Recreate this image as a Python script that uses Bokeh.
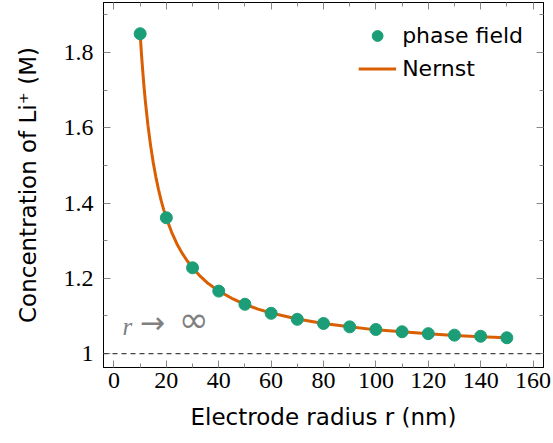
from bokeh.plotting import figure
from bokeh.models import (Range1d, FixedTicker, CustomJSTickFormatter, LinearAxis,
                          Span, Label, Legend, LegendItem)
from bokeh.embed import file_html
from bokeh.resources import INLINE

# phase-field simulation points
pf_r = [10, 20, 30, 40, 50, 60, 70, 80, 90, 100, 110, 120, 130, 140, 150]
pf_c = [1.850, 1.361, 1.228, 1.166, 1.131, 1.107, 1.091, 1.080, 1.071,
        1.064, 1.058, 1.053, 1.049, 1.046, 1.042]

# Nernst curve
ne_r = [10, 10.5, 11, 11.5, 12, 13, 14, 15, 16, 17, 18, 19, 20, 22, 24, 26,
        28, 30, 33, 36, 40, 45, 50, 55, 60, 70, 80, 90, 100, 110, 120, 130,
        140, 150]
ne_c = [1.850, 1.796, 1.749, 1.707, 1.669, 1.605, 1.552, 1.507, 1.469,
        1.436, 1.407, 1.382, 1.360, 1.323, 1.292, 1.267, 1.246, 1.228,
        1.205, 1.186, 1.166, 1.147, 1.131, 1.118, 1.108, 1.092, 1.080,
        1.071, 1.063, 1.058, 1.053, 1.048, 1.045, 1.042]

bulk_c = 1.0

x_major = [0, 20, 40, 60, 80, 100, 120, 140, 160]
x_minor = [10, 30, 50, 70, 90, 110, 130, 150]
y_major = [1.0, 1.2, 1.4, 1.6, 1.8]
y_minor = [0.9, 1.1, 1.3, 1.5, 1.7, 1.9]

x_title = "Electrode radius r (nm)"
y_title = "Concentration of Li⁺ (M)"

GREEN = "#1b9e77"
ORANGE = "#d95f02"
SANS = "DejaVu Sans"
SERIF = "Liberation Serif"

p = figure(width=551, height=441, output_backend="svg", toolbar_location=None,
           x_range=Range1d(-4, 164), y_range=Range1d(0.963, 1.933),
           min_border_left=103, min_border_right=8, min_border_top=2,
           min_border_bottom=74)
p.grid.visible = False
p.outline_line_color = "black"
p.outline_line_width = 1
p.background_fill_color = "white"
p.border_fill_color = "white"

fmt = CustomJSTickFormatter(code="return String(Math.round(tick*10)/10);")
blank = CustomJSTickFormatter(code="return '';")

def style_axis(ax, ticks, minor, labels=False):
    ax.ticker = FixedTicker(ticks=ticks, minor_ticks=minor)
    ax.axis_line_color = "black"
    ax.major_tick_in = 7
    ax.major_tick_out = 0
    ax.minor_tick_in = 4
    ax.minor_tick_out = 0
    ax.major_tick_line_color = "#888888"
    ax.minor_tick_line_color = "#888888"
    if labels:
        ax.major_label_text_font = SERIF
        ax.major_label_text_font_size = "24px"
        ax.major_label_text_color = "black"
    else:
        ax.formatter = blank
        ax.major_label_standoff = 0

def title_axis(text, standoff):
    ax = LinearAxis(axis_label=text)
    ax.ticker = FixedTicker(ticks=[])
    ax.formatter = blank
    ax.axis_line_color = None
    ax.major_tick_line_color = None
    ax.minor_tick_line_color = None
    ax.major_tick_in = 0
    ax.major_tick_out = 0
    ax.minor_tick_in = 0
    ax.minor_tick_out = 0
    ax.major_label_standoff = 0
    ax.axis_label_standoff = standoff
    ax.axis_label_text_font = SANS
    ax.axis_label_text_font_size = "23px"
    ax.axis_label_text_font_style = "normal"
    ax.axis_label_text_color = "black"
    return ax

style_axis(p.xaxis[0], x_major, x_minor, labels=True)
style_axis(p.yaxis[0], y_major, y_minor, labels=True)
p.yaxis[0].formatter = fmt
p.xaxis[0].major_label_standoff = 5
p.yaxis[0].major_label_standoff = 10

top = LinearAxis()
style_axis(top, x_major, x_minor)
p.add_layout(top, "above")
right = LinearAxis()
style_axis(right, y_major, y_minor)
p.add_layout(right, "right")

p.add_layout(title_axis(x_title, 13), "below")
p.add_layout(title_axis(y_title, 20), "left")

p.add_layout(Span(location=bulk_c, dimension="width", line_color="#444444",
                  line_dash="5 4", line_width=1.2))
p.add_layout(Label(x=3.3, y=1.035, text="r", text_font=SERIF,
                   text_font_style="italic", text_font_size="25px",
                   text_color="#808080"))
p.add_layout(Label(x=9.8, y=1.035, text="→", text_font=SANS,
                   text_font_size="30px", text_color="#808080"))
p.add_layout(Label(x=24.7, y=1.035, text="∞", text_font=SANS,
                   text_font_size="36px", text_color="#808080"))

line = p.line(ne_r, ne_c, line_color=ORANGE, line_width=3)
pts = p.scatter(pf_r, pf_c, size=12, fill_color=GREEN, line_color=GREEN)

legend = Legend(items=[LegendItem(label="phase field", renderers=[pts]),
                       LegendItem(label="Nernst", renderers=[line])],
                location="top_right", border_line_color=None,
                background_fill_alpha=0, label_text_font=SANS,
                label_text_color="black",
                label_text_font_size="22px", glyph_width=38, glyph_height=27,
                label_height=27, spacing=6, padding=8, margin=20,
                label_standoff=6)
p.add_layout(legend)

open("out.html", "w").write(file_html(p, INLINE))
